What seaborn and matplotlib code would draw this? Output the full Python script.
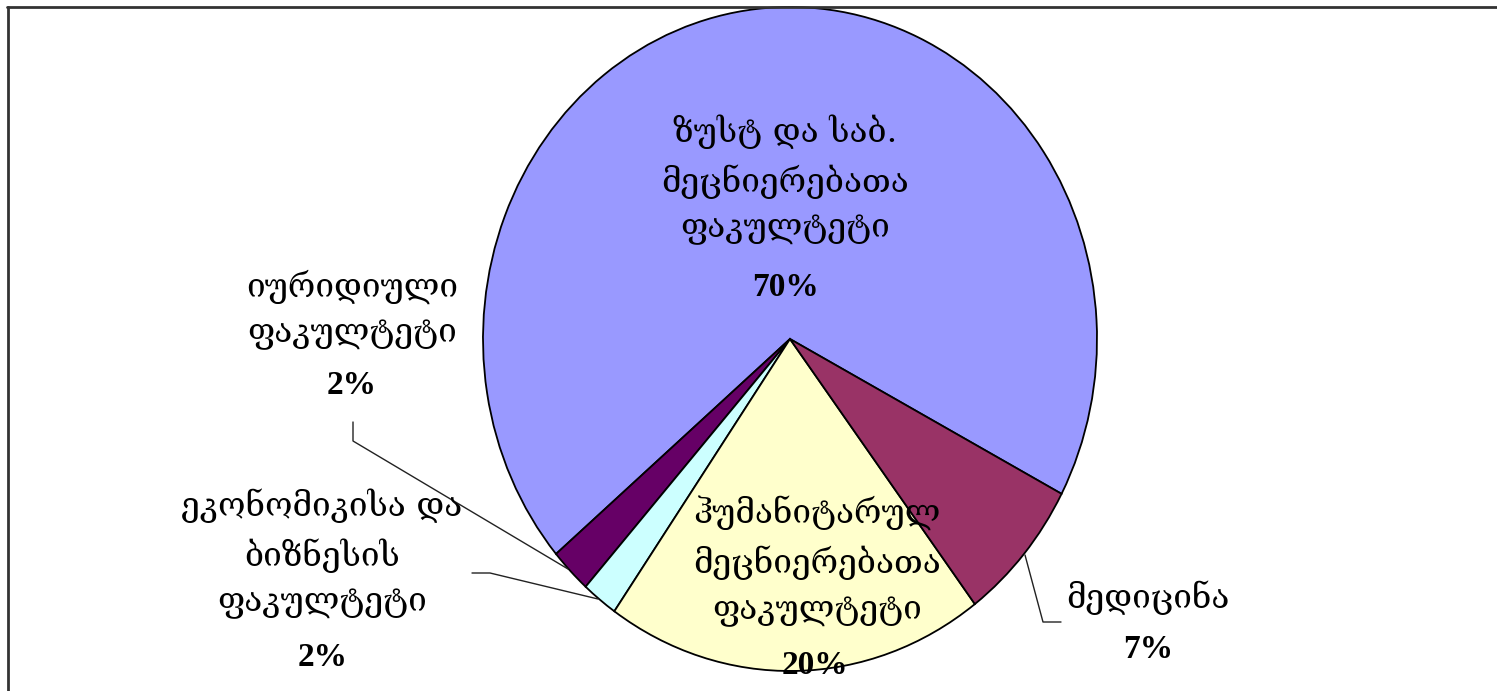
import matplotlib
matplotlib.use("Agg")
import matplotlib.pyplot as plt
import seaborn as sns

# slice data, counter-clockwise from the lower right edge
faculties = ["ზუსტ და საბ.\nმეცნიერებათა\nფაკულტეტი",
             "იურიდიული\nფაკულტეტი",
             "ეკონომიკისა და\nბიზნესის\nფაკულტეტი",
             "ჰუმანიტარულ\nმეცნიერებათა\nფაკულტეტი",
             "მედიცინა"]
shares = [69, 2.2, 1.9, 20, 7]
pct_labels = ["70%", "2%", "2%", "20%", "7%"]
colors = ["#9999FF", "#660066", "#CCFFFF", "#FFFFCC", "#993366"]

sns.set_theme(style="white")
plt.rcParams["font.family"] = ["DejaVu Serif", "DejaVu Sans"]

W, H = 1497, 691
fig = plt.figure(figsize=(W / 100, H / 100), dpi=100)
fig.patch.set_facecolor("white")

# ellipse box in pixels: x 483..1097, y 7..671 (from top)
ax = fig.add_axes([483 / W, (H - 671) / H, 614 / W, 664 / H])
ax.pie(shares, colors=colors, startangle=-27.8, counterclock=True,
       wedgeprops=dict(edgecolor="black", linewidth=1.3))
ax.set_aspect("auto")
ax.set_xlim(-1, 1)
ax.set_ylim(-1, 1)
ax.axis("off")


def px(x, y):
    # pixel position -> pie data coords
    return (x - 790) / 307, (339 - y) / 332


geo_kw = dict(fontsize=24, ha="center", va="center", color="black",
              linespacing=1.55, family=["DejaVu Serif", "DejaVu Sans"])
pct_kw = dict(fontsize=24, ha="center", va="center", color="black",
              fontweight="bold", family=["Liberation Serif", "DejaVu Serif"])

# text centre of the georgian block and of the percentage, in pixels
label_pos = [((785, 180), (785, 287)),
             ((352, 310), (352, 385)),
             ((322, 554), (323, 657)),
             ((817, 561), (815, 665)),
             ((1148, 598), (1148, 650))]

for name, pct, (gpos, ppos) in zip(faculties, pct_labels, label_pos):
    ax.text(*px(*gpos), name, **geo_kw)
    ax.text(*px(*ppos), pct, **pct_kw)

# leader lines
leaders = [[(353, 422), (353, 441), (568, 569)],
           [(472, 573), (490, 573), (598, 599)],
           [(1025, 555), (1043, 622), (1061, 622)]]
for pts in leaders:
    xs, ys = zip(*[px(*p) for p in pts])
    ax.plot(xs, ys, color="#222222", linewidth=1.0, clip_on=False)

# chart frame (left and top edges visible)
fig.add_artist(plt.Line2D([8 / W, 8 / W], [0, 1 - 7 / H], transform=fig.transFigure,
                          color="#333333", linewidth=2))
fig.add_artist(plt.Line2D([7 / W, 1], [1 - 7 / H, 1 - 7 / H], transform=fig.transFigure,
                          color="#333333", linewidth=2))

fig.savefig("out.png", dpi=100, facecolor="white")
